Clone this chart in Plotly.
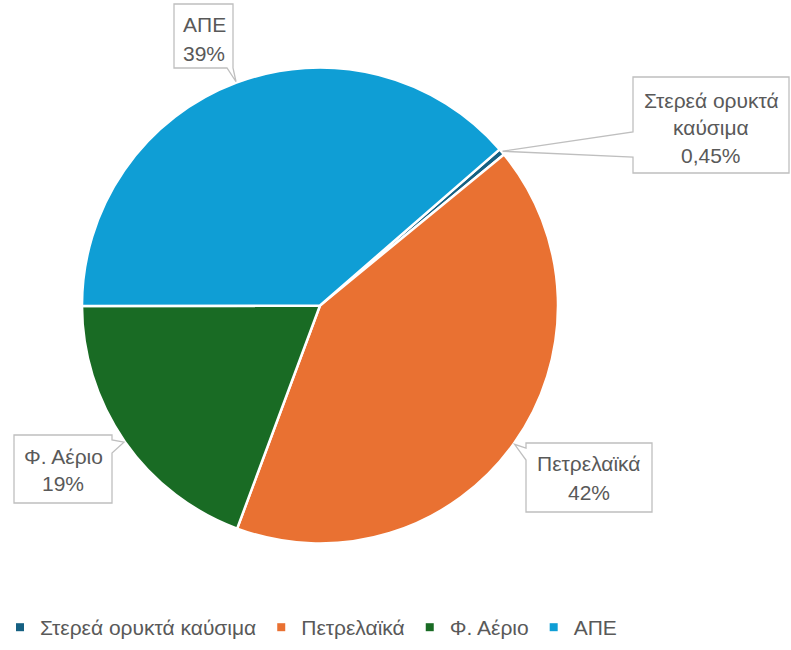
import math
import plotly.graph_objects as go

# Energy mix shares (%)
categories = ["Στερεά ορυκτά καύσιμα", "Πετρελαϊκά", "Φ. Αέριο", "ΑΠΕ"]
values = [0.45, 41.6, 19.3, 38.65]
label_lines = [["Στερεά ορυκτά", "καύσιμα", "0,45%"],
               ["Πετρελαϊκά", "42%"],
               ["Φ. Αέριο", "19%"],
               ["ΑΠΕ", "39%"]]
colors = ["#156082", "#E97132", "#196B24", "#0F9ED5"]

W, H = 791, 650
CX, CY, R = 320, 305.5, 238
ROTATION = 49
TEXT = "#595959"
FONT = "Liberation Sans"
FS = 21


def px(x, y):
    return x / W, 1 - y / H


fig = go.Figure()
fig.add_trace(go.Pie(
    labels=categories, values=values, sort=False, direction="clockwise",
    rotation=ROTATION, textinfo="none", hoverinfo="label+percent",
    marker=dict(colors=colors, line=dict(color="white", width=2.5)),
    domain=dict(x=[(CX - R) / W, (CX + R) / W], y=[1 - (CY + R) / H, 1 - (CY - R) / H]),
    showlegend=False,
))

# legend entries with small square swatches
for name, col in zip(categories, colors):
    fig.add_trace(go.Scatter(x=[None], y=[None], mode="markers", name=name,
                             marker=dict(symbol="square", size=8, color=col)))

# mid-angle of each slice (clockwise from 12 o'clock)
total = sum(values)
mids = []
acc = ROTATION
for v in values:
    span = v / total * 360
    mids.append(acc + span / 2)
    acc += span


def tip(i):
    a = math.radians(mids[i])
    return CX + (R + 1) * math.sin(a), CY - (R + 1) * math.cos(a)


# callout boxes: (left, top, right, bottom), pointer base points, line centres
boxes = [
    dict(box=(633, 77, 789, 173), base=[(633, 157), (633, 132)], side="left",
         cx=711, ys=[100, 127, 155]),
    dict(box=(526, 443, 652, 512), base=[(526, 448), (526, 460)], side="left",
         cx=589, ys=[463, 493]),
    dict(box=(14, 435, 112, 503), base=[(112, 440), (112, 453)], side="right",
         cx=63, ys=[456, 484]),
    dict(box=(174, 4, 233, 68), base=[(233, 68), (227, 68)], side="bottom",
         cx=204, ys=[24, 53]),
]

shapes = []
annotations = []
for i, b in enumerate(boxes):
    l, t, r, btm = b["box"]
    tx, ty = tip(i)
    (b1x, b1y), (b2x, b2y) = b["base"]
    if b["side"] == "left":
        pts = [(l, t), (r, t), (r, btm), (l, btm), (b1x, max(b1y, b2y)), (tx, ty), (b1x, min(b1y, b2y))]
    elif b["side"] == "right":
        pts = [(l, t), (r, t), (r, min(b1y, b2y)), (tx, ty), (r, max(b1y, b2y)), (r, btm), (l, btm)]
    else:
        pts = [(l, t), (r, t), (r, btm), (tx, ty), (min(b1x, b2x), btm), (l, btm)]
    path = "M " + " L ".join(f"{px(x, y)[0]:.5f},{px(x, y)[1]:.5f}" for x, y in pts) + " Z"
    shapes.append(dict(type="path", xref="paper", yref="paper", path=path,
                       fillcolor="white", line=dict(color="#BFBFBF", width=1.3)))
    for line, yy in zip(label_lines[i], b["ys"]):
        xp, yp = px(b["cx"], yy)
        annotations.append(dict(x=xp, y=yp, xref="paper", yref="paper", text=line,
                                showarrow=False, xanchor="center", yanchor="middle",
                                font=dict(family=FONT, size=FS, color=TEXT)))

fig.update_layout(
    width=W, height=H, margin=dict(l=0, r=0, t=0, b=0),
    paper_bgcolor="white", plot_bgcolor="white",
    xaxis=dict(visible=False), yaxis=dict(visible=False),
    shapes=shapes, annotations=annotations,
    font=dict(family=FONT, size=FS, color=TEXT),
    legend=dict(orientation="h", x=0.0, y=0.003, xanchor="left", yanchor="bottom",
                itemwidth=30, font=dict(family=FONT, size=FS, color=TEXT),
                tracegroupgap=0, bgcolor="rgba(0,0,0,0)"),
)

fig.write_html("out.html")
